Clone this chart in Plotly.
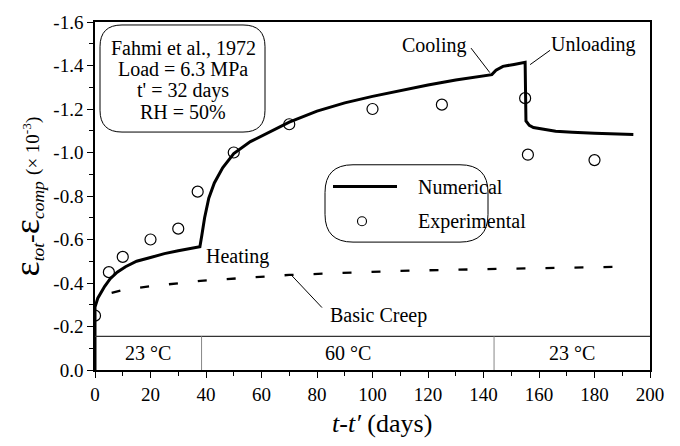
import plotly.graph_objects as go

# ---------------- data ----------------
num_t = [0, 0, 1, 2, 3.5, 5.5, 8, 11, 15, 20, 25, 30, 37.8, 38.5, 39.5, 41, 43, 46, 50, 56, 63,
         70, 80, 90, 100, 110, 120, 130, 143, 144.5, 147, 151, 155, 155.3, 156.5, 158, 162, 166,
         172, 180, 194]
num_y = [0, -0.29, -0.33, -0.355, -0.385, -0.42, -0.45, -0.475, -0.50, -0.517, -0.535, -0.548,
         -0.567, -0.62, -0.70, -0.79, -0.86, -0.93, -0.995, -1.05, -1.095, -1.14, -1.19, -1.228,
         -1.258, -1.285, -1.31, -1.333, -1.358, -1.378, -1.396, -1.405, -1.415, -1.145, -1.125,
         -1.115, -1.105, -1.098, -1.093, -1.088, -1.083]

exp_t = [0, 5, 10, 20, 30, 37, 50, 70, 100, 125, 155, 156, 180]
exp_y = [-0.25, -0.45, -0.52, -0.60, -0.65, -0.82, -1.00, -1.13, -1.20, -1.22, -1.25, -0.99, -0.965]

bc_t = [6, 10, 20, 38, 70, 90, 110, 150, 187]
bc_y = [-0.355, -0.368, -0.385, -0.41, -0.437, -0.448, -0.456, -0.466, -0.474]

band_edges = [0, 38.4, 143.8, 200]
band_labels = ["23 °C", "60 °C", "23 °C"]
band_top = -0.155

y_ticks = [0.0, -0.2, -0.4, -0.6, -0.8, -1.0, -1.2, -1.4, -1.6]
y_ticktext = ["0.0", "-0.2", "-0.4", "-0.6", "-0.8", "-1.0", "-1.2", "-1.4", "-1.6"]
x_ticks = [0, 20, 40, 60, 80, 100, 120, 140, 160, 180, 200]

info_lines = ["Fahmi et al., 1972", "Load = 6.3 MPa", "t' = 32 days", "RH = 50%"]

FONT = "Liberation Serif"
W, H = 680, 446
L, R, T, B = 95, 650, 19, 370


def fx(px):
    return (px - L) / (R - L)


def fy(py):
    return (B - py) / (B - T)


def rrect(x0, y0, x1, y1, r):
    rx = r / (R - L)
    ry = r / (B - T)
    X0, X1 = fx(x0), fx(x1)
    Y0, Y1 = fy(y0), fy(y1)
    return (f"M {X0+rx},{Y0} L {X1-rx},{Y0} Q {X1},{Y0} {X1},{Y0-ry} "
            f"L {X1},{Y1+ry} Q {X1},{Y1} {X1-rx},{Y1} L {X0+rx},{Y1} "
            f"Q {X0},{Y1} {X0},{Y1+ry} L {X0},{Y0-ry} Q {X0},{Y0} {X0+rx},{Y0} Z")


def tfont(size=20):
    return dict(family=FONT, size=size, color="black")


fig = go.Figure()

fig.add_trace(go.Scatter(x=bc_t, y=bc_y, mode="lines",
                         line=dict(color="black", width=2.3, dash="9px,20px"),
                         showlegend=False))
fig.add_trace(go.Scatter(x=num_t, y=num_y, mode="lines",
                         line=dict(color="black", width=3),
                         showlegend=False))
fig.add_trace(go.Scatter(x=exp_t, y=exp_y, mode="markers",
                         marker=dict(symbol="circle-open", size=11, color="black",
                                     line=dict(width=1.2)),
                         showlegend=False))

shapes = []
shapes.append(dict(type="line", xref="x", yref="y", x0=band_edges[0], x1=band_edges[-1],
                   y0=band_top, y1=band_top, line=dict(color="#333", width=1.3)))
for e in band_edges[1:-1]:
    shapes.append(dict(type="line", xref="x", yref="y", x0=e, x1=e, y0=0, y1=band_top,
                       line=dict(color="#888", width=1)))
shapes.append(dict(type="path", xref="paper", yref="paper", path=rrect(100, 22, 265, 130, 22),
                   line=dict(color="black", width=1)))
shapes.append(dict(type="path", xref="paper", yref="paper", path=rrect(325, 163, 488, 241, 28),
                   line=dict(color="black", width=1)))
shapes.append(dict(type="line", xref="paper", yref="paper", x0=fx(333), x1=fx(397),
                   y0=fy(185), y1=fy(185), line=dict(color="black", width=3)))
shapes.append(dict(type="circle", xref="paper", yref="paper", x0=fx(357.5), x1=fx(366.5),
                   y0=fy(215.5), y1=fy(224.5), line=dict(color="black", width=1.1)))
shapes.append(dict(type="line", xref="x", yref="y", x0=135.5, y0=-1.48, x1=142.3, y1=-1.367,
                   line=dict(color="black", width=1)))
shapes.append(dict(type="line", xref="x", yref="y", x0=164, y0=-1.47, x1=156.8, y1=-1.404,
                   line=dict(color="black", width=1)))
shapes.append(dict(type="line", xref="x", yref="y", x0=71, y0=-0.433, x1=81.8, y1=-0.287,
                   line=dict(color="black", width=1)))

ann = []
for i, lab in enumerate(band_labels):
    ann.append(dict(x=(band_edges[i] + band_edges[i + 1]) / 2, y=band_top / 2, xref="x", yref="y",
                    text=lab, showarrow=False, xanchor="center", yanchor="middle", font=tfont()))
for i, line in enumerate(info_lines):
    ann.append(dict(x=fx(183), y=fy(45 + 21.7 * i), xref="paper", yref="paper", text=line,
                    xanchor="center", yanchor="middle", showarrow=False, font=tfont()))
ann.append(dict(x=fx(416), y=fy(185), xref="paper", yref="paper", text="Numerical",
                xanchor="left", yanchor="middle", showarrow=False, font=tfont()))
ann.append(dict(x=fx(416), y=fy(220), xref="paper", yref="paper", text="Experimental",
                xanchor="left", yanchor="middle", showarrow=False, font=tfont()))
for txt, tx, ty in [("Cooling", 122.2, -1.49), ("Unloading", 179.5, -1.495),
                    ("Heating", 51.2, -0.524), ("Basic Creep", 102, -0.25)]:
    ann.append(dict(x=tx, y=ty, xref="x", yref="y", text=txt, showarrow=False,
                    xanchor="center", yanchor="middle", font=tfont()))
ann.append(dict(x=fx(382), y=fy(424), xref="paper", yref="paper",
                text="<i>t</i>-<i>t′</i> (days)", showarrow=False,
                xanchor="center", yanchor="middle", font=tfont(26)))
ann.append(dict(x=fx(27), y=fy(195), xref="paper", yref="paper", textangle=-90,
                text=("<span style='font-size:36px'>ε</span><sub><i>tot</i></sub>"
                      "<span style='font-size:26px'>-</span>"
                      "<span style='font-size:36px'>ε</span><sub><i>comp</i></sub>"
                      " <span style='font-size:19px'>(× 10<sup>-3</sup>)</span>"),
                xanchor="center", yanchor="middle", showarrow=False, font=tfont(25)))

fig.update_layout(
    width=W, height=H,
    margin=dict(l=L, r=W - R, t=T, b=H - B),
    plot_bgcolor="white", paper_bgcolor="white",
    shapes=shapes, annotations=ann,
    showlegend=False,
    font=tfont(),
)
fig.update_xaxes(range=[0, 200], tickvals=x_ticks, ticks="outside", ticklen=6, tickwidth=1.2,
                 tickcolor="black", showline=True, linecolor="black", linewidth=1.5, mirror=True,
                 showgrid=False, zeroline=False,
                 minor=dict(dtick=10, ticks="outside", ticklen=4, tickcolor="black"),
                 tickfont=tfont(19))
fig.update_yaxes(range=[0, -1.6], tickvals=y_ticks, ticktext=y_ticktext, ticks="outside",
                 ticklen=6, tickwidth=1.2, tickcolor="black", showline=True, linecolor="black",
                 linewidth=1.5, mirror=True, showgrid=False, zeroline=False,
                 minor=dict(dtick=0.1, ticks="outside", ticklen=4, tickcolor="black"),
                 tickfont=tfont(19))

fig.write_html("out.html")
